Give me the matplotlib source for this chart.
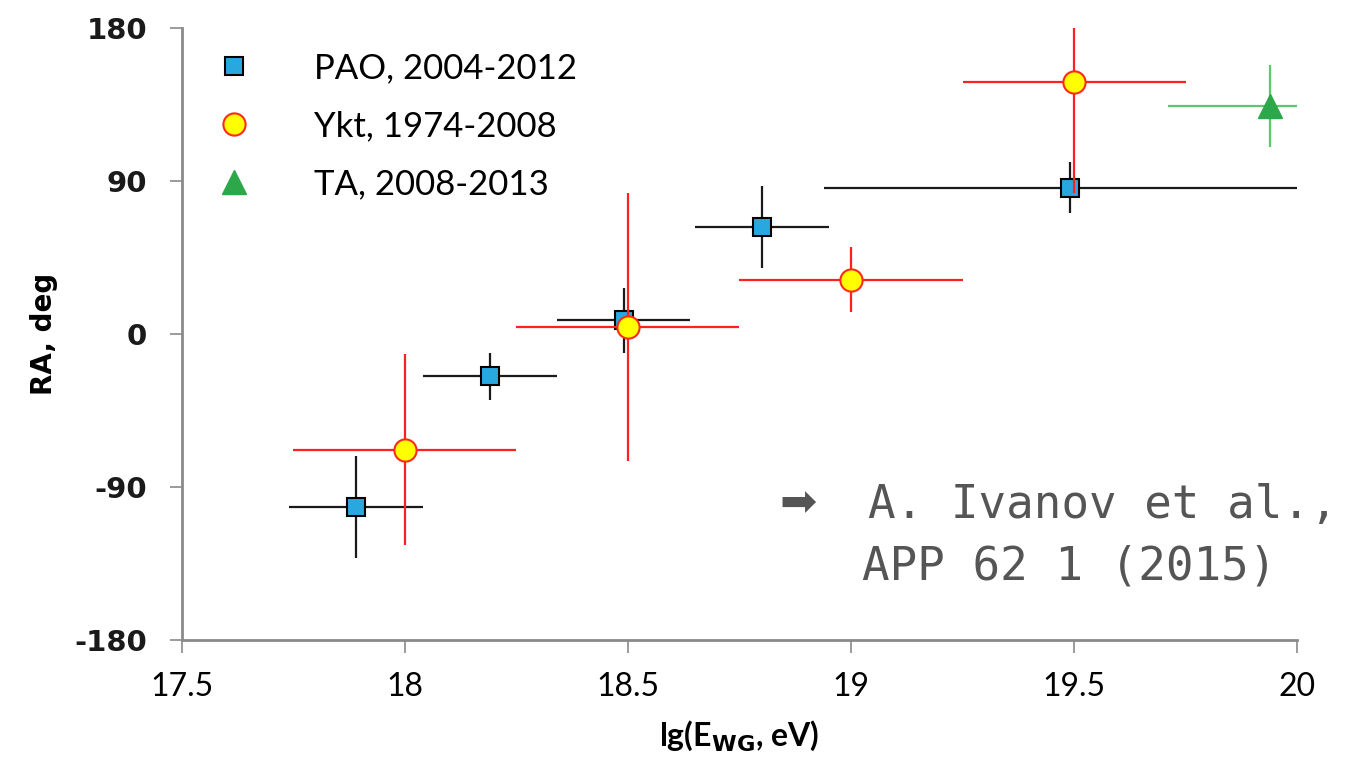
import numpy as np
import matplotlib.pyplot as plt
from matplotlib.lines import Line2D

# PAO, 2004-2012
pao_x = [17.89, 18.19, 18.49, 18.80, 19.49]
pao_y = [-102, -25, 8, 63, 86]
pao_xerr = [0.15, 0.15, 0.15, 0.15, 0.55]
pao_yerr = [30, 14, 19, 24, 15]

# Ykt, 1974-2008
ykt_x = [18.0, 18.5, 19.0, 19.5]
ykt_y = [-68, 4, 32, 148]
ykt_xerr = [0.25, 0.25, 0.25, 0.25]
ykt_yerr = [56, 79, 19, 65]

# TA, 2008-2013
ta_x = [19.94]
ta_y = [134]
ta_xerr = [[0.23], [0.06]]
ta_yerr = [24]

xticks = [17.5, 18, 18.5, 19, 19.5, 20]
yticks = [-180, -90, 0, 90, 180]

fig = plt.figure(figsize=(13.61, 7.76), dpi=100)
ax = fig.add_axes([0.1337, 0.1753, 0.8193, 0.7886])

ax.errorbar(pao_x, pao_y, xerr=pao_xerr, yerr=pao_yerr, fmt='s', ms=13,
            mfc='#29a8e0', mec='black', mew=1.5, ecolor='#1a1a1a', elinewidth=1.6,
            capsize=0, zorder=3)
ax.errorbar(ykt_x, ykt_y, xerr=ykt_xerr, yerr=ykt_yerr, fmt='o', ms=16,
            mfc='#ffff00', mec='#ff2a1a', mew=1.5, ecolor='#ff2020', elinewidth=1.6,
            capsize=0, zorder=4)
ax.errorbar(ta_x, ta_y, xerr=ta_xerr, yerr=ta_yerr, fmt='^', ms=17,
            mfc='#2ca84a', mec='#2ca84a', ecolor='#5cc86a', elinewidth=1.6,
            capsize=0, zorder=3)

ax.set_xlim(17.5, 20)
ax.set_ylim(-180, 180)
ax.set_xticks(xticks)
ax.set_xticklabels(['17.5', '18', '18.5', '19', '19.5', '20'],
                   family=['Liberation Sans Narrow', 'Lato'], fontsize=23)
ax.set_yticks(yticks)
ax.set_yticklabels([str(v) for v in yticks], fontweight='bold', fontsize=21,
                   color='#1a1a1a')

for s in ['top', 'right']:
    ax.spines[s].set_visible(False)
for s in ['left', 'bottom']:
    ax.spines[s].set_color('#8a8a8a')
    ax.spines[s].set_linewidth(2)
ax.tick_params(axis='both', direction='out', length=9, width=1.2, color='#8a8a8a')
ax.tick_params(axis='x', pad=14)
ax.tick_params(axis='y', pad=16)

ax.set_ylabel('RA, deg', fontweight='bold', fontsize=20, labelpad=12)
ax.set_xlabel(r'lg(E$_{\mathbf{WG}}$, eV)', fontweight='bold', fontsize=23,
              family=['Liberation Sans Narrow', 'Lato'], labelpad=12)

handles = [
    Line2D([], [], ls='none', marker='s', ms=13, mfc='#29a8e0', mec='black', mew=1.5),
    Line2D([], [], ls='none', marker='o', ms=16, mfc='#ffff00', mec='#ff2a1a', mew=1.5),
    Line2D([], [], ls='none', marker='^', ms=17, mfc='#2ca84a', mec='#2ca84a'),
]
labels = ['PAO, 2004-2012', 'Ykt, 1974-2008', 'TA, 2008-2013']
ax.legend(handles, labels, loc='upper left', frameon=False, handletextpad=1.5,
          labelspacing=0.75, borderaxespad=0.5, borderpad=0.2, handlelength=1.6,
          prop={'family': ['Lato', 'DejaVu Sans'], 'size': 25})

ax.text(18.84, -100, '\u27a1', fontsize=32, color='#555555', va='center',
        ha='left', family='DejaVu Sans')
ax.text(19.038, -101, 'A. Ivanov et al.,', fontsize=33, color='#555555',
        va='center', ha='left', family='DejaVu Sans Mono')
ax.text(19.025, -137, 'APP 62 1 (2015)', fontsize=33, color='#555555',
        va='center', ha='left', family='DejaVu Sans Mono')

fig.savefig('out.png', dpi=100)
